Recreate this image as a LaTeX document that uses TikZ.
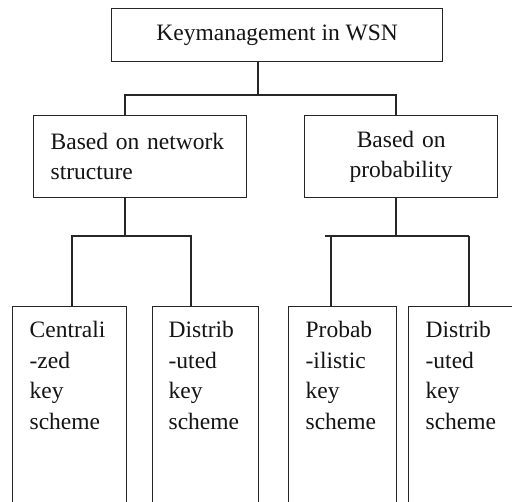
\documentclass[tikz,border=0pt]{standalone}
\usepackage{fontspec}
\setmainfont{Liberation Serif}
\begin{document}
\begin{tikzpicture}[x=1pt,y=1pt,
  line width=1.3pt,
  every node/.style={font=\fontsize{23.5}{30.5}\selectfont, text=black!92},
  box/.style={draw=black!85, rectangle, inner sep=0pt, anchor=north west},
  midbox/.style={box, inner xsep=17pt, inner ysep=0pt, minimum height=82pt},
  leafbox/.style={box, minimum height=230pt},
  leaftext/.style={anchor=north west, inner sep=0pt, align=left},
  link/.style={draw=black!85, line width=1.3pt}
]
\useasboundingbox (0,0) rectangle (512,-502);
\clip (0,0) rectangle (512,-502);
\fill[white] (0,0) rectangle (512,-502);

% root
\node[box, minimum width=331pt, minimum height=53pt] (top) at (111,-8) {Keymanagement in WSN};

% second level
\node[midbox, text width=179pt, align=left] (mid1) at (33,-115) {Based on network\\structure};
\node[midbox, text width=159pt, align=center] (mid2) at (304,-115) {Based on\\probability};

% leaves (boxes run past the lower and right edges)
\node[leafbox, minimum width=114pt] (leaf1) at (12,-306) {};
\node[leafbox, minimum width=106pt] (leaf2) at (152,-306) {};
\node[leafbox, minimum width=108pt] (leaf3) at (288,-306) {};
\node[leafbox, minimum width=160pt] (leaf4) at (408,-306) {};

\node[leaftext] (leaf1t) at (29,-321) {Centrali\\-zed\\key\\scheme};
\node[leaftext] (leaf2t) at (168,-321) {Distrib\\-uted\\key\\scheme};
\node[leaftext] (leaf3t) at (305,-321) {Probab\\-ilistic\\key\\scheme};
\node[leaftext] (leaf4t) at (425,-321) {Distrib\\-uted\\key\\scheme};

% junction points
\coordinate (j0) at (258,-95);
\coordinate (a1) at (125,-95);
\coordinate (a2) at (396,-95);
\coordinate (b0) at (125,-236);
\coordinate (b1) at (72,-236);
\coordinate (b2) at (191,-236);
\coordinate (c0) at (396,-236);
\coordinate (c1) at (331,-236);
\coordinate (c2) at (469,-236);
\coordinate (c1s) at (325,-236);

% connectors
\draw[link] (top.south -| j0) -- (j0);
\draw[link] (mid1.north -| a1) -- (a1) -- (a2) -- (mid2.north -| a2);

\draw[link] (mid1.south -| b0) -- (b0);
\draw[link] (leaf1.north -| b1) -- (b1) -- (b2) -- (leaf2.north -| b2);

\draw[link] (mid2.south -| c0) -- (c0);
\draw[link] (c1s) -- (c2);
\draw[link] (leaf3.north -| c1) -- (c1);
\draw[link] (leaf4.north -| c2) -- (c2);
\end{tikzpicture}
\end{document}
